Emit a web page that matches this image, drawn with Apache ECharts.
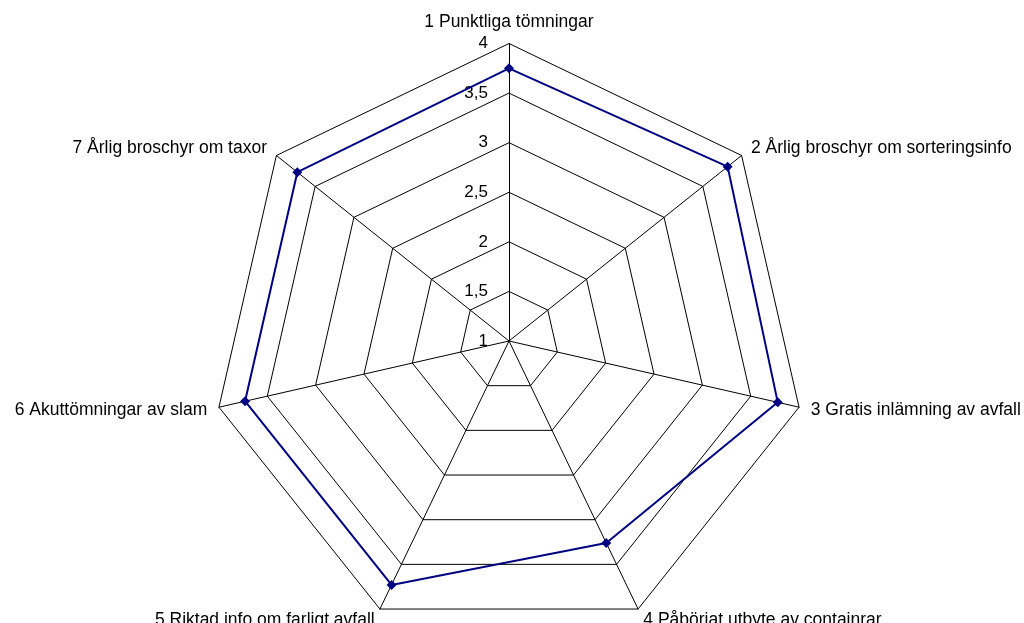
<!DOCTYPE html>
<html>
<head>
<meta charset="utf-8">
<script src="https://cdn.jsdelivr.net/npm/echarts@6/dist/echarts.min.js"></script>
<style>html,body{margin:0;padding:0;background:#fff}#c{width:1024px;height:623px}</style>
</head>
<body>
<div id="c"></div>
<script>
const categories = [
  '1 Punktliga tömningar',
  '2 Årlig broschyr om sorteringsinfo',
  '3 Gratis inlämning av avfall',
  '4 Påbörjat utbyte av containrar',
  '5 Riktad info om farligt avfall',
  '6 Akuttömningar av slam',
  '7 Årlig broschyr om taxor'
];
const values = [3.75, 3.82, 3.78, 3.26, 3.73, 3.73, 3.73];
const axisMin = 1, axisMax = 4, axisStep = 0.5;

const cx = 509, cy = 341, R = 297.5;
const font = 'Liberation Sans, Arial, sans-serif';

// ECharts radar goes counter-clockwise; reorder so categories run clockwise
const order = [0].concat(categories.map((_, i) => i).slice(1).reverse());
const indCats = order.map(i => categories[i]);
const indVals = order.map(i => values[i]);

const chart = echarts.init(document.getElementById('c'), null, {renderer: 'canvas'});
chart.setOption({
  backgroundColor: '#fff',
  animation: false,
  textStyle: {fontFamily: font},
  radar: {
    center: [cx, cy],
    radius: R,
    startAngle: 90,
    shape: 'polygon',
    splitNumber: (axisMax - axisMin) / axisStep,
    indicator: indCats.map(n => ({name: n, min: axisMin, max: axisMax})),
    nameGap: 12,
    axisName: {color: '#000', fontSize: 17.5, fontFamily: font},
    axisLine: {lineStyle: {color: '#000', width: 1}},
    splitLine: {lineStyle: {color: '#000', width: 1}},
    splitArea: {show: false},
    axisTick: {show: false},
    axisLabel: {show: false}
  },
  grid: {left: cx, top: cy - R, width: 1, height: R, containLabel: false},
  xAxis: {type: 'value', show: false},
  yAxis: {
    type: 'value', min: axisMin, max: axisMax, interval: axisStep,
    axisLine: {show: false}, axisTick: {show: false}, splitLine: {show: false},
    axisLabel: {color: '#000', fontSize: 17, fontFamily: font, margin: 21,
      formatter: v => String(v).replace('.', ',')}
  },
  series: [{
    type: 'radar',
    symbol: 'diamond',
    symbolSize: 10,
    lineStyle: {color: '#000080', width: 2},
    itemStyle: {color: '#000080'},
    data: [{value: indVals}]
  }]
});
</script>
</body>
</html>
